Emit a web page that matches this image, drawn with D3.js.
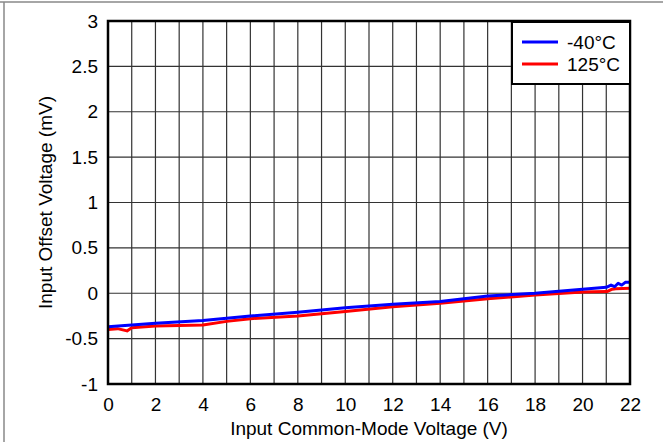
<!DOCTYPE html>
<html>
<head>
<meta charset="utf-8">
<script src="https://cdn.jsdelivr.net/npm/d3@7/dist/d3.min.js"></script>
<style>
  html, body { margin: 0; padding: 0; background: #fff; }
  svg { display: block; font-family: "Liberation Sans", Arial, sans-serif; }
</style>
</head>
<body>
<svg id="chart" width="663" height="442"></svg>
<script>
// Common-mode voltage (V) and offset voltage (mV) for each temperature
const vcmCold = [0, 1, 2, 4, 6, 8, 10, 12, 14, 16, 18, 20, 21, 21.2, 21.35, 21.5, 21.65, 21.8, 22];
const vosCold = [-0.37, -0.35, -0.33, -0.30, -0.25, -0.21, -0.16, -0.12, -0.09, -0.03, 0, 0.043, 0.065, 0.09, 0.072, 0.11, 0.09, 0.12, 0.12];
const vcmHot = [0, 0.4, 0.8, 1, 2, 4, 5, 6, 8, 10, 12, 14, 16, 18, 20, 21, 21.05, 21.25, 21.4, 22];
const vosHot = [-0.40, -0.39, -0.415, -0.38, -0.36, -0.35, -0.31, -0.28, -0.25, -0.20, -0.15, -0.11, -0.06, -0.02, 0.015, 0.02, 0.02, 0.045, 0.05, 0.055];

const seriesNames = ["-40°C", "125°C"];
const seriesColors = ["#0000ff", "#ff0000"];

const xTicks = d3.range(0, 23, 2);
const xGrid = d3.range(0, 23, 1);
const yTicks = [-1, -0.5, 0, 0.5, 1, 1.5, 2, 2.5, 3];
const xTitle = "Input Common-Mode Voltage (V)";
const yTitle = "Input Offset Voltage (mV)";

const svg = d3.select("#chart");
const W = 663, H = 442;
const m = { left: 108, right: 630, top: 21, bottom: 384 };
const FS = 19;

// page frame (top and left edges)
svg.append("line").attr("x1", 0).attr("x2", W).attr("y1", 2).attr("y2", 2)
  .attr("stroke", "#888").attr("stroke-width", 1.5);
svg.append("line").attr("x1", 4).attr("x2", 4).attr("y1", 2).attr("y2", H)
  .attr("stroke", "#888").attr("stroke-width", 1.5);

const x = d3.scaleLinear().domain([0, 22]).range([m.left, m.right]);
const y = d3.scaleLinear().domain([-1, 3]).range([m.bottom, m.top]);

// grid
const grid = svg.append("g").attr("stroke", "#333").attr("stroke-width", 1.2);
grid.selectAll(".gx").data(xGrid).join("line")
  .attr("x1", d => x(d)).attr("x2", d => x(d))
  .attr("y1", m.top).attr("y2", m.bottom);
grid.selectAll(".gy").data(yTicks).join("line")
  .attr("x1", m.left).attr("x2", m.right)
  .attr("y1", d => y(d)).attr("y2", d => y(d));

// axes
const xAxis = svg.append("g").attr("transform", `translate(0,${m.bottom})`)
  .call(d3.axisBottom(x).tickValues(xTicks).tickSize(0).tickPadding(14).tickFormat(d3.format("d")));
const yAxis = svg.append("g").attr("transform", `translate(${m.left},0)`)
  .call(d3.axisLeft(y).tickValues(yTicks).tickSize(0).tickPadding(10).tickFormat(d => String(d)));
[xAxis, yAxis].forEach(a => {
  a.select(".domain").remove();
  a.selectAll("text").attr("font-size", FS).attr("fill", "#000")
    .attr("font-family", "'Liberation Sans', Arial, sans-serif");
});

// data lines
const line = d3.line().x(d => x(d[0])).y(d => y(d[1]));
const series = [
  d3.zip(vcmCold, vosCold),
  d3.zip(vcmHot, vosHot)
];
// draw hot first so the cold trace sits on top
[1, 0].forEach(i => {
  svg.append("path").datum(series[i]).attr("d", line)
    .attr("fill", "none").attr("stroke", seriesColors[i])
    .attr("stroke-width", 3).attr("stroke-linejoin", "round");
});

// plot frame
svg.append("rect").attr("x", m.left).attr("y", m.top)
  .attr("width", m.right - m.left).attr("height", m.bottom - m.top)
  .attr("fill", "none").attr("stroke", "#000").attr("stroke-width", 2.5);

// legend
const lg = svg.append("g");
lg.append("rect").attr("x", 512).attr("y", 22).attr("width", 118).attr("height", 62)
  .attr("fill", "#fff").attr("stroke", "#000").attr("stroke-width", 2);
seriesNames.forEach((n, i) => {
  const yy = 42 + i * 22;
  lg.append("line").attr("x1", 522).attr("x2", 558).attr("y1", yy).attr("y2", yy)
    .attr("stroke", seriesColors[i]).attr("stroke-width", 3);
  lg.append("text").attr("x", 567).attr("y", yy + 7).attr("font-size", FS)
    .attr("fill", "#000").text(n);
});

// axis titles
svg.append("text").attr("x", (m.left + m.right) / 2).attr("y", 435)
  .attr("text-anchor", "middle").attr("font-size", FS).text(xTitle);
svg.append("text").attr("transform", `translate(52,${(m.top + m.bottom) / 2}) rotate(-90)`)
  .attr("text-anchor", "middle").attr("font-size", FS).text(yTitle);
</script>
</body>
</html>
